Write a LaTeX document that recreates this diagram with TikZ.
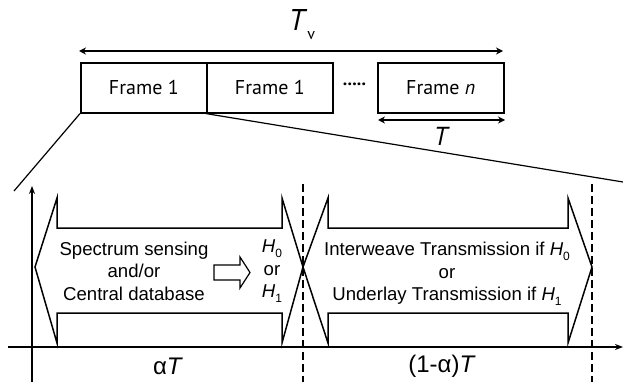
\documentclass[tikz,border=0pt]{standalone}
\usepackage{fontspec}
\setmainfont{Liberation Sans}
\newfontfamily\myr{PT Sans}
\usetikzlibrary{arrows.meta}
\newcommand{\hsub}[1]{\raisebox{-4.5pt}{\fontsize{12}{13}\selectfont #1}}
\tikzset{
  ln/.style={line width=1.5pt},
  thin/.style={line width=1.2pt},
  frm/.style={draw,line width=1.6pt,minimum height=50pt,inner sep=0pt,font=\myr\fontsize{20}{24}\selectfont},
  dbl/.style={line width=1.6pt,{Stealth[length=7pt,width=7pt]}-{Stealth[length=7pt,width=7pt]}},
  axis/.style={line width=1.5pt,-{Stealth[length=8pt,width=6pt]}},
  dsh/.style={line width=1.5pt,dash pattern=on 8pt off 4pt},
  txt/.style={align=center,inner sep=0pt,font=\fontsize{18.6}{22.5}\selectfont},
  lbl/.style={inner sep=0pt,font=\fontsize{24}{28}\selectfont}
}
\begin{document}
\begin{tikzpicture}[x=1pt,y=-1pt]
\useasboundingbox (0,0) rectangle (623,382);
% top frames
\node[frm,minimum width=126pt,anchor=north west] (f1) at (80,62) {Frame 1};
\node[frm,minimum width=126pt,anchor=north west] (f2) at (206,62) {Frame 1};
\node[frm,minimum width=126pt,anchor=north west] (fn) at (377,62) {Frame \textit{n}};
\node[font=\myr\bfseries\fontsize{18}{22}\selectfont,inner sep=0pt] (dots) at (354.5,84) {.....};
% Tv
\coordinate (tvl) at (79,51);
\coordinate (tvr) at (503,51);
\draw[dbl] (tvl) -- (tvr);
\node[inner sep=0pt,font=\myr\fontsize{30}{34}\selectfont] (tv) at (302,25) {\textit{T}\raisebox{-9pt}{\fontsize{16}{18}\selectfont v}};
% T
\coordinate (tl) at (378,120);
\coordinate (tr) at (505,120);
\draw[dbl] (tl) -- (tr);
\node[inner sep=0pt,font=\myr\fontsize{26}{30}\selectfont] (tlab) at (442,136) {\textit{T}};
% zoom lines
\coordinate (za) at (14,191);
\coordinate (zb) at (623,182);
\draw[thin] (f1.south west) -- (za);
\draw[thin] (f2.south west) -- (zb);
% axes
\coordinate (vb) at (32,382);
\coordinate (vt) at (32,186);
\coordinate (hl) at (8,347);
\coordinate (hr) at (623,347);
\draw[axis] (vb) -- (vt);
\draw[axis] (hl) -- (hr);
% dashed
\coordinate (d1t) at (303,184);
\coordinate (d1b) at (303,382);
\coordinate (d2t) at (592,184);
\coordinate (d2b) at (592,382);
\draw[dsh] (d1t) -- (d1b);
\draw[dsh] (d2t) -- (d2b);
% big block arrows
\draw[ln,line join=miter] (35,267) -- (57,198) -- (57,228) -- (282,228) -- (282,198) -- (303,267) -- (282,343) -- (282,313) -- (57,313) -- (57,343) -- cycle;
\draw[ln,line join=miter] (303,267) -- (328,198) -- (328,228) -- (568,228) -- (568,198) -- (592,267) -- (568,343) -- (568,313) -- (328,313) -- (328,343) -- cycle;
% small hollow arrow
\draw[thin,line join=miter] (214,265) -- (240,265) -- (240,257) -- (250,272.5) -- (240,288) -- (240,280) -- (214,280) -- cycle;
% texts
\node[txt] (sens) at (134,271) {Spectrum sensing\\and/or\\Central database};
\node[txt] (hyp) at (272,271) {\textit{H}\hsub{0}\\or\\\textit{H}\hsub{1}};
\node[txt] (trans) at (447,274) {Interweave Transmission if \textit{H}\hsub{0}\\or\\Underlay Transmission if \textit{H}\hsub{1}};
\node[lbl] (at) at (168,366) {α\textit{T}};
\node[lbl] (oat) at (442,366) {(1-α)\textit{T}};
\end{tikzpicture}
\end{document}
